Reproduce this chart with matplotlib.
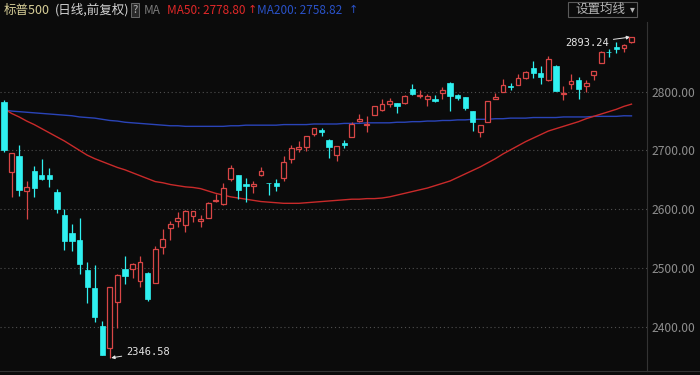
#!/bin/python
import numpy as np
import matplotlib
matplotlib.use('Agg')
import matplotlib.pyplot as plt
from matplotlib.patches import Rectangle
from matplotlib.lines import Line2D

# S&P 500 daily bars, 2018-12-04 .. 2019-04-05
dates = ['12-04','12-06','12-07','12-10','12-11','12-12','12-13','12-14','12-17','12-18',
         '12-19','12-20','12-21','12-24','12-26','12-27','12-28','12-31',
         '01-02','01-03','01-04','01-07','01-08','01-09','01-10','01-11','01-14','01-15',
         '01-16','01-17','01-18','01-22','01-23','01-24','01-25','01-28','01-29','01-30','01-31',
         '02-01','02-04','02-05','02-06','02-07','02-08','02-11','02-12','02-13','02-14',
         '02-15','02-19','02-20','02-21','02-22','02-25','02-26','02-27','02-28',
         '03-01','03-04','03-05','03-06','03-07','03-08','03-11','03-12','03-13','03-14',
         '03-15','03-18','03-19','03-20','03-21','03-22','03-25','03-26','03-27','03-28','03-29',
         '04-01','04-02','04-03','04-04','04-05']
opens = [2782.43, 2663.51, 2691.26, 2630.86, 2664.44, 2658.23, 2658.70, 2629.68, 2590.75, 2559.90,
         2547.05, 2496.77, 2465.38, 2400.56, 2363.12, 2442.50, 2498.77, 2498.94,
         2476.96, 2491.92, 2474.33, 2535.61, 2568.11, 2580.00, 2573.51, 2588.11, 2580.31, 2585.10,
         2614.75, 2609.28, 2651.27, 2657.88, 2643.48, 2638.84, 2657.44, 2644.97, 2644.89, 2653.62, 2685.49,
         2702.32, 2706.49, 2728.34, 2735.05, 2717.53, 2692.36, 2712.40, 2722.61, 2750.30, 2743.50,
         2760.24, 2769.28, 2779.05, 2780.67, 2780.24, 2804.35, 2792.36, 2787.50, 2788.11,
         2798.22, 2814.37, 2794.41, 2790.27, 2766.53, 2730.79, 2747.61, 2787.34, 2799.78, 2810.38,
         2810.79, 2822.61, 2840.76, 2831.34, 2819.72, 2844.52, 2796.01, 2812.66, 2819.72, 2809.40, 2828.27,
         2848.63, 2868.24, 2876.09, 2873.99, 2884.16]
highs = [2785.93, 2696.15, 2708.54, 2647.51, 2674.35, 2685.44, 2670.19, 2635.07, 2601.13, 2573.99,
         2585.29, 2509.63, 2504.41, 2410.34, 2467.76, 2489.10, 2520.27, 2509.24,
         2519.49, 2493.14, 2538.07, 2566.16, 2579.82, 2595.32, 2597.82, 2596.27, 2589.32, 2613.08,
         2625.76, 2645.06, 2675.47, 2657.88, 2653.19, 2647.20, 2672.38, 2644.97, 2650.93, 2690.44, 2708.95,
         2716.66, 2724.99, 2738.98, 2738.08, 2719.32, 2708.07, 2718.05, 2748.19, 2761.85, 2757.90,
         2775.66, 2787.33, 2789.88, 2781.58, 2794.20, 2813.49, 2803.12, 2795.76, 2793.73,
         2808.02, 2816.88, 2796.44, 2790.27, 2766.53, 2744.13, 2784.00, 2798.32, 2821.24, 2815.00,
         2830.73, 2835.41, 2852.42, 2843.54, 2860.31, 2846.16, 2809.79, 2829.87, 2825.56, 2819.71, 2836.03,
         2869.40, 2872.90, 2885.25, 2881.28, 2893.24]
lows = [2697.18, 2621.53, 2623.14, 2583.23, 2621.30, 2650.26, 2637.27, 2593.84, 2530.54, 2528.71,
        2488.96, 2441.18, 2408.55, 2351.10, 2346.58, 2397.94, 2472.89, 2482.82,
        2467.47, 2443.96, 2474.33, 2524.56, 2547.56, 2568.89, 2562.02, 2577.40, 2570.41, 2585.10,
        2612.68, 2606.36, 2647.58, 2617.27, 2612.86, 2627.01, 2657.33, 2624.06, 2631.05, 2648.34, 2678.65,
        2696.88, 2698.75, 2724.03, 2724.15, 2687.26, 2681.83, 2703.79, 2722.61, 2748.63, 2731.23,
        2760.24, 2767.29, 2774.06, 2764.55, 2779.11, 2794.99, 2789.47, 2775.13, 2782.51,
        2787.38, 2767.66, 2785.58, 2768.69, 2732.86, 2722.27, 2747.61, 2786.73, 2799.78, 2803.46,
        2810.79, 2821.99, 2823.27, 2812.43, 2817.38, 2800.47, 2785.02, 2803.99, 2787.72, 2798.77, 2819.23,
        2848.63, 2858.75, 2865.17, 2867.14, 2882.99]
closes = [2700.06, 2695.95, 2633.08, 2637.72, 2636.78, 2651.07, 2650.54, 2599.95, 2545.94, 2546.16,
          2506.96, 2467.42, 2416.62, 2351.10, 2467.70, 2488.83, 2485.74, 2506.85,
          2510.03, 2447.89, 2531.94, 2549.69, 2574.41, 2584.96, 2596.64, 2596.26, 2582.61, 2610.30,
          2616.10, 2635.96, 2670.71, 2632.90, 2638.70, 2642.33, 2664.76, 2643.85, 2640.00, 2681.05, 2704.10,
          2706.53, 2724.87, 2737.70, 2731.61, 2706.05, 2707.88, 2709.80, 2744.73, 2753.03, 2745.73,
          2775.60, 2779.76, 2784.70, 2774.88, 2792.67, 2796.11, 2793.90, 2792.38, 2784.49,
          2803.69, 2792.81, 2789.65, 2771.45, 2748.93, 2743.07, 2783.30, 2791.52, 2810.92, 2808.48,
          2822.48, 2832.94, 2832.57, 2824.23, 2854.88, 2800.71, 2798.36, 2818.46, 2805.37, 2815.44, 2834.40,
          2867.19, 2867.24, 2873.40, 2879.39, 2892.74]
# moving averages
ma50 = [2771, 2763, 2757, 2750, 2744, 2737, 2730, 2723, 2716, 2708,
        2700, 2692, 2686, 2681, 2676, 2671, 2667, 2662, 2657, 2652,
        2647, 2645, 2642, 2640, 2638, 2637, 2635, 2631, 2627, 2624,
        2621, 2619, 2617, 2615, 2613, 2612, 2611, 2610, 2610, 2610,
        2611, 2612, 2613, 2614, 2615, 2616, 2617, 2617, 2618, 2618,
        2619, 2621, 2624, 2627, 2630, 2633, 2636, 2640, 2644, 2648,
        2654, 2660, 2666, 2672, 2679, 2686, 2694, 2701, 2708, 2715,
        2721, 2727, 2733, 2737, 2741, 2745, 2749, 2754, 2758, 2762,
        2766, 2770, 2775, 2778.80]
ma200 = [2769, 2767, 2766, 2765, 2764, 2763, 2762, 2761, 2760, 2759,
         2757, 2756, 2755, 2753, 2751, 2750, 2748, 2747, 2746, 2745,
         2744, 2743, 2742, 2742, 2741, 2741, 2741, 2741, 2741, 2741,
         2742, 2742, 2743, 2743, 2743, 2743, 2743, 2744, 2744, 2744,
         2744, 2745, 2745, 2745, 2745, 2746, 2746, 2746, 2747, 2747,
         2747, 2747, 2748, 2748, 2749, 2749, 2750, 2750, 2751, 2751,
         2752, 2752, 2753, 2753, 2753, 2754, 2754, 2755, 2755, 2755,
         2756, 2756, 2756, 2756, 2757, 2757, 2757, 2757, 2758, 2758,
         2758, 2758, 2759, 2758.82]
yticks = [2400, 2500, 2600, 2700, 2800]

BG = '#0b0b0b'
UP = '#d84646'
DOWN = '#2ff0f0'
GREY = '#8e8e8e'
W, H = 700, 375


def fx(px):
    return px / W


def fy(py):
    return 1 - py / H


def draw_candles(ax):
    x = np.arange(len(dates))
    o = np.array(opens)
    c = np.array(closes)
    hi = np.array(highs)
    lo = np.array(lows)
    up = c >= o
    top = np.maximum(o, c)
    bot = np.minimum(o, c)
    body = np.maximum(top - bot, 0.6)
    # down bars: filled cyan
    ax.vlines(x[~up], lo[~up], hi[~up], color=DOWN, lw=0.9, zorder=3)
    ax.bar(x[~up], body[~up], bottom=bot[~up], width=0.7, color=DOWN,
           edgecolor=DOWN, lw=0.5, zorder=4)
    # up bars: hollow red
    ax.vlines(x[up], top[up], hi[up], color=UP, lw=0.9, zorder=3)
    ax.vlines(x[up], lo[up], bot[up], color=UP, lw=0.9, zorder=3)
    ax.bar(x[up], body[up], bottom=bot[up], width=0.64, facecolor=BG,
           edgecolor=UP, lw=0.9, zorder=4)


def main():
    plt.rcParams['font.family'] = ['Noto Sans CJK SC', 'DejaVu Sans']
    fig = plt.figure(figsize=(7, 3.75), dpi=100, facecolor=BG)
    ax = fig.add_axes([0, fy(371), fx(647), (371 - 22) / H], facecolor=BG)
    x = np.arange(len(dates))
    ax.plot(x, ma200, color='#2a44b8', lw=1.0, zorder=2)
    ax.plot(x, ma50, color='#c92a2a', lw=1.0, zorder=2)
    draw_candles(ax)
    ax.set_xlim(-4 / 7.56, 643 / 7.56)
    ax.set_ylim(2324.6, 2918.6)
    ax.set_xticks([])
    ax.yaxis.tick_right()
    ax.set_yticks(yticks)
    ax.set_yticklabels(['%.2f' % v for v in yticks])
    ax.tick_params(axis='y', length=0, pad=3, labelsize=8.7, labelcolor=GREY)
    ax.grid(axis='y', color='#505050', lw=0.8, linestyle=(0, (1, 2.5)))
    for s in ['top', 'left']:
        ax.spines[s].set_visible(False)
    ax.spines['right'].set_color('#333333')
    ax.spines['bottom'].set_color('#333333')
    fig.add_artist(Line2D([fx(647), 1], [fy(371), fy(371)], color='#333333', lw=0.8))

    # extreme value marks
    ih = int(np.argmax(highs))
    il = int(np.argmin(lows))
    mono = dict(family='DejaVu Sans Mono', fontsize=7.5, color='#e6e6e6', va='center', ha='left')
    arr = dict(arrowstyle='-|>', color='#e6e6e6', lw=0.7, mutation_scale=5, shrinkA=1, shrinkB=1)
    ax.annotate('%.2f' % highs[ih], xy=(ih, highs[ih]), xytext=(-66, -6),
                textcoords='offset pixels', arrowprops=arr, **mono)
    ax.annotate('%.2f' % lows[il], xy=(il, lows[il]), xytext=(16, 6),
                textcoords='offset pixels', arrowprops=arr, **mono)

    # header line
    ty = fy(10)
    fs = 9
    fig.text(fx(4), ty, '标普500', color='#d8cf98', fontsize=fs, va='center')
    fig.text(fx(55), ty, '(日线,前复权)', color='#d2d2d2', fontsize=fs, va='center')
    fig.text(fx(135), ty, '?', color='#b0b0b0', fontsize=8, va='center', ha='center',
             bbox=dict(boxstyle='square,pad=0.15', fc='#2a2a2a', ec='#6a6a6a', lw=0.7))
    fig.text(fx(144), ty, 'MA', color='#7a7a7a', fontsize=8.5, va='center')
    fig.text(fx(167), ty, 'MA50: %.2f' % ma50[-1], color='#e02828', fontsize=8.5, va='center')
    fig.text(fx(248), ty, '↑', color='#e02828', fontsize=8, va='center', family='DejaVu Sans')
    fig.text(fx(257), ty, 'MA200: %.2f' % ma200[-1], color='#2a52c8', fontsize=8.5, va='center')
    fig.text(fx(349), ty, '↑', color='#2a52c8', fontsize=8, va='center', family='DejaVu Sans')

    # button
    fig.add_artist(Rectangle((fx(568), fy(17)), fx(69), 15 / H, transform=fig.transFigure,
                             fc=BG, ec='#5a5a5a', lw=0.8))
    fig.text(fx(575), fy(9.5), '设置均线', color='#b4b4b4', fontsize=fs, va='center')
    fig.text(fx(632), fy(9.5), '▾', color='#b4b4b4', fontsize=7, va='center', ha='center')

    fig.savefig('out.png', dpi=100, facecolor=BG)
    plt.close(fig)


if __name__ == '__main__':
    main()
